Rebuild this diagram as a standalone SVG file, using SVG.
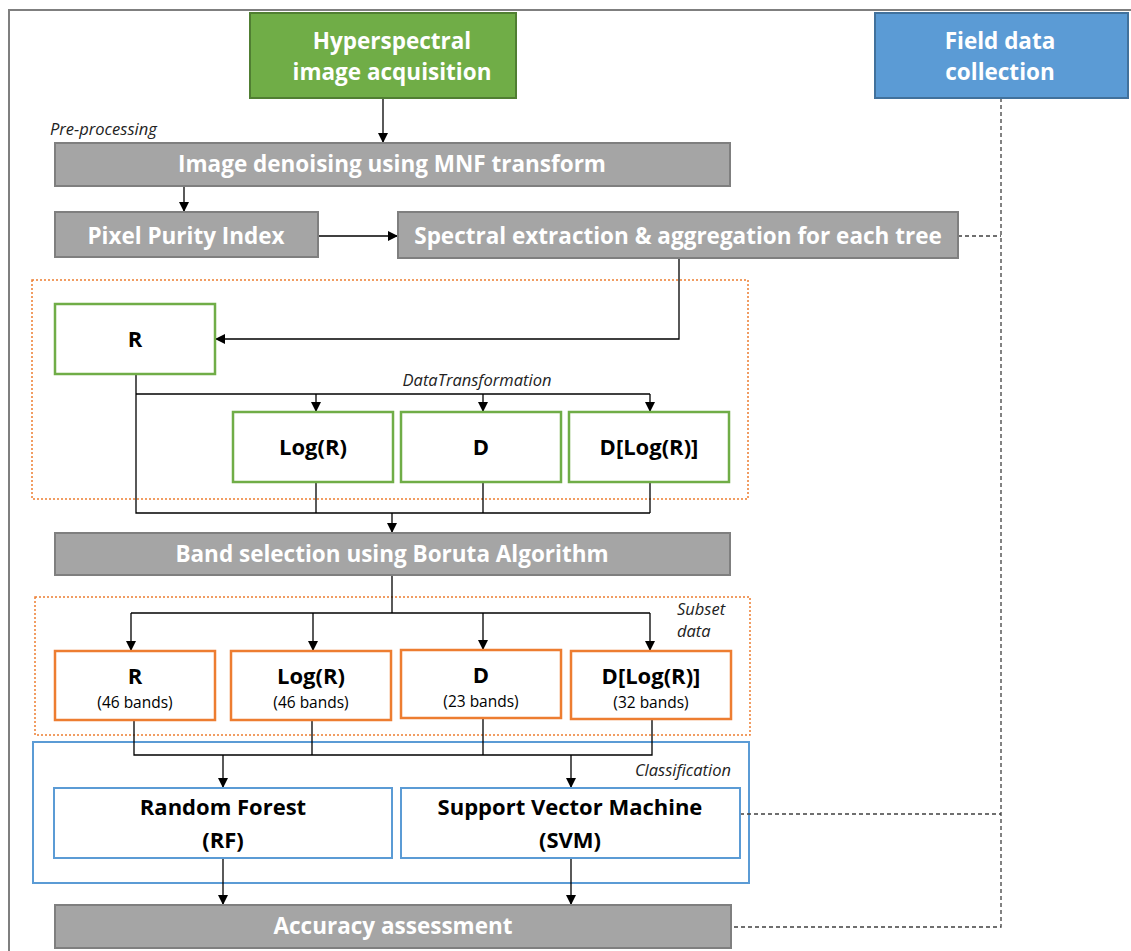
<svg xmlns="http://www.w3.org/2000/svg" width="1131" height="951" viewBox="0 0 1131 951">
<defs>
<marker id="ah" viewBox="0 0 10 10" refX="10" refY="5" markerWidth="10" markerHeight="10" markerUnits="userSpaceOnUse" orient="auto"><path d="M0,0 L10,5 L0,10 z" fill="#000"/></marker>
<style>
.gray{fill:#a5a5a5;stroke:#7f7f7f;stroke-width:2}
.gl{fill:#fff;stroke:#70ad47;stroke-width:2.5}
.or{fill:#fff;stroke:#ed7d31;stroke-width:2.5}
.bl{fill:#fff;stroke:#5b9bd5;stroke-width:2}
.wt{font-family:"Open Sans","Liberation Sans",sans-serif;font-weight:bold;fill:#fff;font-size:22.5px;text-anchor:middle}
.bt{font-family:"Open Sans","Liberation Sans",sans-serif;font-weight:bold;fill:#000;font-size:22px;text-anchor:middle}
.sub{font-family:"Open Sans","Liberation Sans",sans-serif;fill:#000;font-size:15.5px;text-anchor:middle}
.it{font-family:"Open Sans","Liberation Sans",sans-serif;font-style:italic;fill:#222;font-size:16.5px}
.ln{fill:none;stroke:#000;stroke-width:1.3}
.ar{fill:none;stroke:#000;stroke-width:1.3;marker-end:url(#ah)}
.dash{fill:none;stroke:#404040;stroke-width:1.3;stroke-dasharray:4,3}
.dot{fill:none;stroke:#ed7d31;stroke-width:1.5;stroke-dasharray:2,2}
</style>
</defs>
<rect width="1131" height="951" fill="#fff"/>
<path d="M9,951 L9,10 L1131,10" fill="none" stroke="#7f7f7f" stroke-width="2"/>

<g id="frames">
<rect x="32" y="280" width="716" height="219" class="dot"/>
<rect x="35" y="597" width="715" height="138" class="dot"/>
<rect x="33" y="742" width="716" height="141" class="bl"/>
<text x="50" y="135" class="it">Pre-processing</text>
<text x="477" y="386" class="it" text-anchor="middle">DataTransformation</text>
<text x="677" y="615" class="it">Subset</text>
<text x="677" y="637" class="it">data</text>
<text x="731" y="776" class="it" text-anchor="end">Classification</text>
</g>

<g id="connectors">
<path d="M383,98 V143" class="ar"/>
<path d="M184,186 V212" class="ar"/>
<path d="M318,236 H398" class="ar"/>
<path d="M679,258 V339 H215" class="ar"/>
<path d="M136,374 V513 H650" class="ln"/>
<path d="M136,394 H650" class="ln"/>
<path d="M316,394 V412" class="ar"/>
<path d="M483,394 V412" class="ar"/>
<path d="M650,394 V412" class="ar"/>
<path d="M316,482 V513" class="ln"/>
<path d="M483,482 V513" class="ln"/>
<path d="M650,482 V513" class="ln"/>
<path d="M392,513 V533" class="ar"/>
<path d="M392,575 V613" class="ln"/>
<path d="M131,613 H650" class="ln"/>
<path d="M131,613 V651" class="ar"/>
<path d="M313,613 V651" class="ar"/>
<path d="M483,613 V650" class="ar"/>
<path d="M650,613 V651" class="ar"/>
<path d="M134,720 V755 H652 V719" class="ln"/>
<path d="M312,720 V755" class="ln"/>
<path d="M483,718 V755" class="ln"/>
<path d="M223,755 V788" class="ar"/>
<path d="M571,755 V788" class="ar"/>
<path d="M223,858 V905" class="ar"/>
<path d="M571,858 V905" class="ar"/>
<path d="M1001,98 V927 H731" class="dash"/>
<path d="M958,236 H1001" class="dash"/>
<path d="M740,814 H1001" class="dash"/>
</g>

<g id="hyperspectral">
<rect x="250" y="13" width="266" height="85" fill="#70ad47" stroke="#507e32" stroke-width="2"/>
<text x="392" y="49" class="wt">Hyperspectral</text>
<text x="392" y="80" class="wt">image acquisition</text>
</g>
<g id="field">
<rect x="875" y="13" width="253" height="85" fill="#5b9bd5" stroke="#41719c" stroke-width="2"/>
<text x="1000" y="49" class="wt">Field data</text>
<text x="1000" y="80" class="wt">collection</text>
</g>
<g id="mnf">
<rect x="55" y="143" width="675" height="43" class="gray"/>
<text x="392" y="172" class="wt">Image denoising using MNF transform</text>
</g>
<g id="ppi">
<rect x="55" y="212" width="263" height="45" class="gray"/>
<text x="186" y="244" class="wt">Pixel Purity Index</text>
</g>
<g id="spectral">
<rect x="398" y="212" width="560" height="46" class="gray"/>
<text x="678" y="244" class="wt">Spectral extraction &amp; aggregation for each tree</text>
</g>
<g id="r1">
<rect x="55" y="304" width="160" height="70" class="gl"/>
<text x="135" y="347" class="bt">R</text>
</g>
<g id="logr1">
<rect x="233" y="412" width="160" height="70" class="gl"/>
<text x="313" y="455" class="bt">Log(R)</text>
</g>
<g id="d1">
<rect x="401" y="412" width="160" height="70" class="gl"/>
<text x="481" y="455" class="bt">D</text>
</g>
<g id="dlogr1">
<rect x="569" y="412" width="160" height="70" class="gl"/>
<text x="649" y="455" class="bt">D[Log(R)]</text>
</g>
<g id="boruta">
<rect x="55" y="533" width="675" height="42" class="gray"/>
<text x="392" y="562" class="wt">Band selection using Boruta Algorithm</text>
</g>
<g id="r2">
<rect x="55" y="651" width="160" height="69" class="or"/>
<text x="135" y="684" class="bt">R</text>
<text x="135" y="708" class="sub">(46 bands)</text>
</g>
<g id="logr2">
<rect x="231" y="651" width="160" height="69" class="or"/>
<text x="311" y="684" class="bt">Log(R)</text>
<text x="311" y="708" class="sub">(46 bands)</text>
</g>
<g id="d2">
<rect x="401" y="650" width="160" height="68" class="or"/>
<text x="481" y="683" class="bt">D</text>
<text x="481" y="707" class="sub">(23 bands)</text>
</g>
<g id="dlogr2">
<rect x="571" y="651" width="160" height="68" class="or"/>
<text x="651" y="684" class="bt">D[Log(R)]</text>
<text x="651" y="708" class="sub">(32 bands)</text>
</g>
<g id="rf">
<rect x="54" y="788" width="338" height="70" class="bl"/>
<text x="223" y="815" class="bt">Random Forest</text>
<text x="223" y="848" class="bt">(RF)</text>
</g>
<g id="svm">
<rect x="401" y="788" width="339" height="70" class="bl"/>
<text x="570" y="815" class="bt">Support Vector Machine</text>
<text x="570" y="848" class="bt">(SVM)</text>
</g>
<g id="accuracy">
<rect x="55" y="905" width="676" height="43" class="gray"/>
<text x="393" y="934" class="wt">Accuracy assessment</text>
</g>
</svg>
